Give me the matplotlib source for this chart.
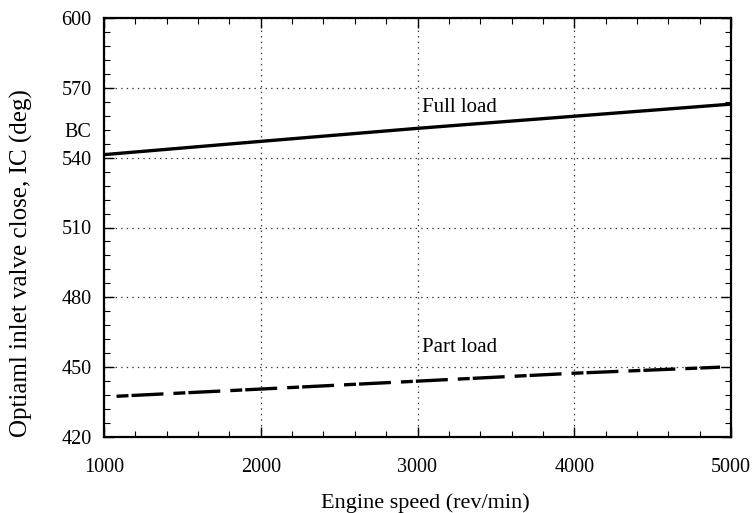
import matplotlib
matplotlib.use("Agg")
import matplotlib.pyplot as plt
from matplotlib.ticker import MultipleLocator

plt.rcParams['font.family'] = ['Liberation Serif', 'DejaVu Serif']
plt.rcParams['lines.scale_dashes'] = False

# Data
full_speed = [1000, 2000, 3000, 4000, 5000]
full_ic = [541.3, 547.0, 552.6, 557.8, 563.0]
part_speed = [1080, 2000, 3000, 4000, 4930]
part_ic = [437.5, 440.6, 444.0, 447.4, 450.0]
x_ticks = [1000, 2000, 3000, 4000, 5000]
y_ticks = [420, 450, 480, 510, 540, 570, 600]

W, H = 753, 513
fig = plt.figure(figsize=(W / 100, H / 100), dpi=100)
ax = fig.add_axes([104 / W, 1 - 437 / H, 627 / W, 419 / H])

ax.plot(full_speed, full_ic, color='black', lw=2.4, solid_capstyle='butt')
ax.plot(part_speed, part_ic, color='black', lw=2.4, dash_capstyle='butt',
        dashes=(8.6, 2.2, 23, 7.2))

ax.set_xlim(1000, 5000)
ax.set_ylim(420, 600)
ax.set_xticks(x_ticks)
ax.set_yticks(y_ticks)
ax.xaxis.set_minor_locator(MultipleLocator(200))
ax.yaxis.set_minor_locator(MultipleLocator(6))

ax.grid(True, which='major', linestyle=(0, (1, 3)), color='#333333', lw=0.9)
ax.tick_params(which='both', direction='in', top=True, right=True, colors='black')
ax.tick_params(which='major', length=7, width=1.0, labelsize=14.5)
ax.tick_params(which='minor', length=4, width=0.8)
ax.tick_params(axis='x', which='major', pad=15)
ax.tick_params(axis='y', which='major', pad=9)
for s in ax.spines.values():
    s.set_linewidth(1.6)

ax.text(3030, 561.7, 'Full load', fontsize=15, va='center', ha='left')
ax.text(3030, 458.6, 'Part load', fontsize=15, va='center', ha='left')
ax.annotate('BC', xy=(0, 551), xycoords=('axes fraction', 'data'),
            xytext=(-9, 0), textcoords='offset points',
            ha='right', va='center', fontsize=14.5)

fig.text(0.5 * (104 + 731) / W + 8 / W, 1 - 503 / H, 'Engine speed (rev/min)',
         fontsize=16, ha='center', va='center')
fig.text(21 / W, 1 - 263 / H, 'Optiaml inlet valve close, IC (deg)',
         fontsize=18, ha='center', va='center', rotation=90)

fig.savefig('out.png', dpi=100)
